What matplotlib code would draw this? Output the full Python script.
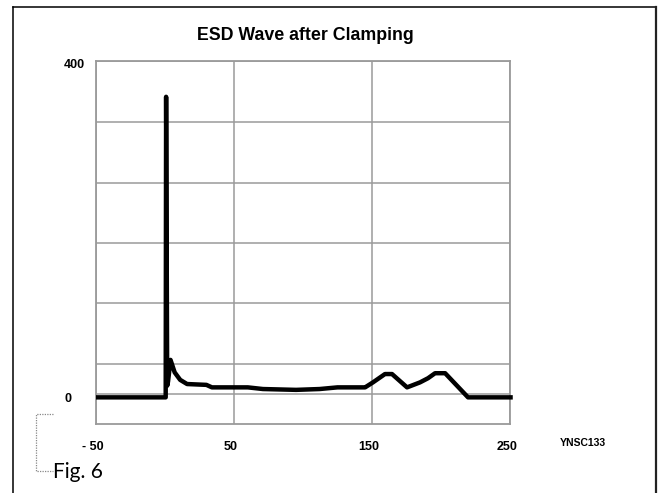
import numpy as np
import matplotlib
matplotlib.use('Agg')
import matplotlib.pyplot as plt
from matplotlib.lines import Line2D
from matplotlib.transforms import ScaledTranslation

# time (x) and clamped voltage (y)
x_vals = [-50, 0.5, 0.8, 1.6, 2.2, 4.0, 7.0, 11.0, 16.0, 30.0, 34.0, 60.0,
          71.0, 95.0, 112.0, 125.0, 143.5, 145.0, 150.7, 159.4, 164.5, 175.4,
          184.8, 190.6, 195.7, 203.0, 219.6, 252.0]
y_vals = [-4, -4, 357, 10, 15, 41, 26, 17, 12, 11, 8, 8,
          6, 5, 6, 8, 8, 8, 14, 24, 24, 8,
          14, 19, 25, 25, -4, -4]

x_ticks = [-50, 50, 150, 250]
x_labels = ['- 50', '50', '150', '250']
y_ticks = [0, 400]
y_labels = ['0', '400']
grid_y = [400, 327, 254, 182, 109, 36, 0]

title = 'ESD Wave after Clamping'
code = 'YNSC133'
fig_label = 'Fig. 6'

W, H = 662, 493
fig = plt.figure(figsize=(W / 100, H / 100), dpi=100)
ax = fig.add_axes([96 / W, 1 - 424 / H, (510 - 96) / W, (424 - 61) / H])

gray = '#9a9a9a'
for g in grid_y:
    ax.axhline(g, color=gray, lw=1.1, zorder=1)
for g in x_ticks:
    ax.axvline(g, color=gray, lw=1.1, zorder=1)

ax.plot(x_vals, y_vals, color='black', lw=3.2, solid_joinstyle='round',
        solid_capstyle='butt', zorder=3, clip_on=False)

ax.set_xlim(-50, 250)
ax.set_ylim(-36, 400)
for s in ax.spines.values():
    s.set_color(gray)
    s.set_linewidth(1.3)

ax.set_xticks(x_ticks, x_labels)
ax.set_yticks(y_ticks, y_labels)
ax.tick_params(length=0)
ax.tick_params(axis='x', pad=12)
ax.tick_params(axis='y', pad=23)
for lab in ax.get_xticklabels() + ax.get_yticklabels():
    lab.set_fontfamily('Liberation Sans')
    lab.set_fontweight('bold')
    lab.set_fontsize(9)
for lab in ax.get_yticklabels():
    lab.set_horizontalalignment('left')
    lab.set_transform(lab.get_transform() + ScaledTranslation(0, -3 / 100, fig.dpi_scale_trans))
for lab in ax.get_xticklabels():
    lab.set_transform(lab.get_transform() + ScaledTranslation(-3 / 100, 0, fig.dpi_scale_trans))

fig.text(305 / W, 1 - 36 / H, title, ha='center', va='center',
         fontsize=12.8, fontweight='bold', family='Liberation Sans')
fig.text(583 / W, 1 - 443 / H, code, ha='center', va='center',
         fontsize=7.5, fontweight='bold', family='Liberation Sans')

# outer frame (no bottom edge visible)
def fline(xs, ys, **kw):
    fig.add_artist(Line2D([v / W for v in xs], [1 - v / H for v in ys], **kw))

fline([13, 13], [7, 493], color='black', lw=1.1)
fline([13, 656], [7, 7], color='black', lw=1.1)
fline([656, 656], [7, 493], color='#222222', lw=1.6)

# dotted bracket next to the figure label
fline([53, 36, 36, 53], [414, 414, 471, 471], color='#888888', lw=0.9,
      ls=(0, (1, 1)))
fig.text(53 / W, 1 - 472 / H, fig_label, ha='left', va='center',
         fontsize=15, family='Lato')

fig.savefig('out.png', dpi=100)
